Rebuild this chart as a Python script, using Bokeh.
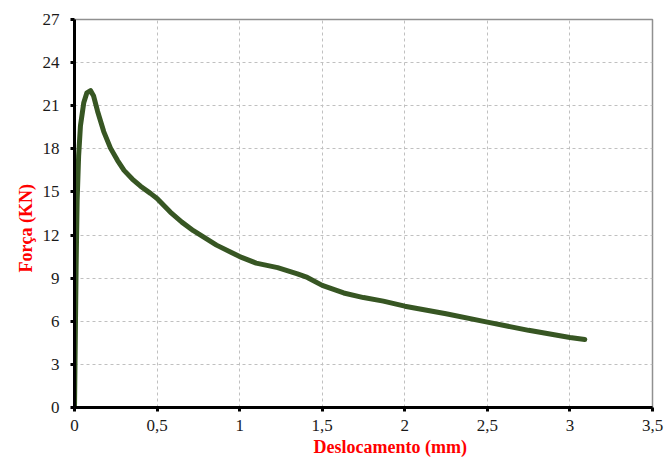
from bokeh.plotting import figure
from bokeh.embed import file_html
from bokeh.resources import INLINE
from bokeh.models import FixedTicker, Range1d, Title

desloc = [0.0, 0.005, 0.01, 0.016, 0.025, 0.036, 0.056, 0.075, 0.097, 0.115, 0.14, 0.177,
          0.218, 0.26, 0.30, 0.35, 0.40, 0.46, 0.5, 0.58, 0.65, 0.72, 0.86, 1.0, 1.1, 1.23,
          1.35, 1.41, 1.5, 1.63, 1.75, 1.87, 2.0, 2.25, 2.5, 2.75, 3.0, 3.09]
forca = [0.0, 5.0, 10.0, 14.4, 17.5, 19.6, 21.2, 21.9, 22.05, 21.7, 20.6, 19.2,
         18.05, 17.2, 16.5, 15.9, 15.4, 14.9, 14.55, 13.6, 12.9, 12.3, 11.3, 10.5, 10.05, 9.73,
         9.3, 9.05, 8.5, 7.97, 7.65, 7.4, 7.05, 6.52, 5.94, 5.37, 4.87, 4.73]

x_ticks = [0, 0.5, 1, 1.5, 2, 2.5, 3, 3.5]
x_labels = ["0", "0,5", "1", "1,5", "2", "2,5", "3", "3,5"]
y_ticks = [0, 3, 6, 9, 12, 15, 18, 21, 24, 27]
x_title = "Deslocamento (mm)"
y_title = "Força (KN)"

p = figure(width=668, height=462, output_backend="svg", toolbar_location=None,
           x_range=Range1d(0, 3.5), y_range=Range1d(0, 27),
           frame_width=578, frame_height=388,
           min_border_left=74, min_border_right=16, min_border_top=19, min_border_bottom=55)

p.line(desloc, forca, line_color="#375623", line_width=5, line_join="round", line_cap="round")

p.outline_line_color = "#909090"
p.outline_line_width = 1.5

for ax in (p.xaxis[0], p.yaxis[0]):
    ax.axis_line_color = "black"
    ax.axis_line_width = 3
    ax.major_tick_line_color = "black"
    ax.major_tick_line_width = 3
    ax.major_tick_out = 4
    ax.major_tick_in = 0
    ax.minor_tick_line_color = None
    ax.major_label_text_font = "Liberation Serif"
    ax.major_label_text_font_size = "17px"
    ax.major_label_text_color = "#1a1a1a"

p.xaxis.ticker = FixedTicker(ticks=x_ticks)
p.xaxis.major_label_overrides = {t: l for t, l in zip(x_ticks, x_labels)}
p.yaxis.ticker = FixedTicker(ticks=y_ticks)
p.xaxis.major_label_standoff = 8
p.yaxis.major_label_standoff = 11

common = dict(text_font="Liberation Serif", text_font_size="18px", text_font_style="bold",
              text_color="#ff0000", align="left")
p.add_layout(Title(text=x_title, offset=239, standoff=3, **common), "below")
p.add_layout(Title(text=y_title, offset=135, standoff=7, **common), "left")

for g in (p.xgrid[0], p.ygrid[0]):
    g.grid_line_color = "#c0c0c0"
    g.grid_line_dash = "3 3"
    g.grid_line_width = 1

open("out.html", "w").write(file_html(p, INLINE))
